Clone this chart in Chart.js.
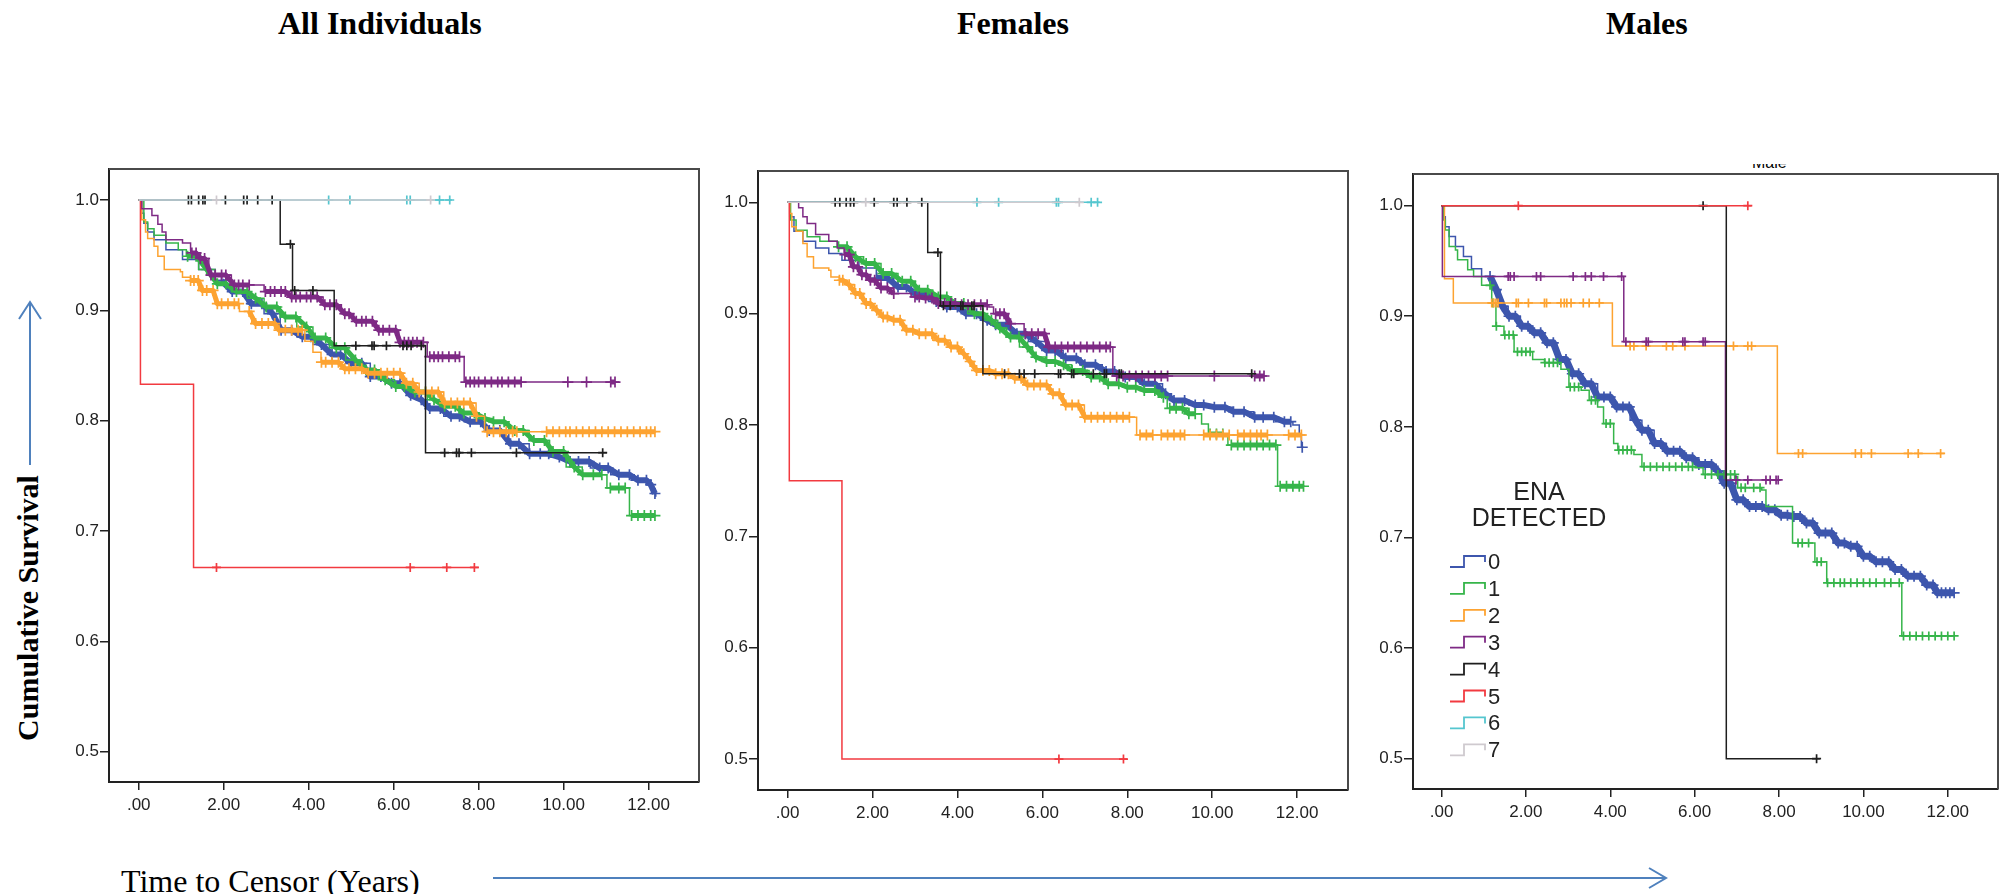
<!DOCTYPE html>
<html>
<head>
<meta charset="utf-8">
<script src="https://cdn.jsdelivr.net/npm/chart.js@4.4.1/dist/chart.umd.min.js"></script>
<style>
  html, body { margin: 0; padding: 0; background: #fff; }
  #page { position: relative; width: 2007px; height: 894px; overflow: hidden; background: #fff; }
  #page canvas { position: absolute; }
  #page svg { position: absolute; left: 0; top: 0; }
</style>
</head>
<body>
<div id="page">
  <svg width="2007" height="894">
    <g font-family="'Liberation Serif', 'Times New Roman', serif" fill="#000">
      <text x="278" y="34" font-size="32" font-weight="bold">All Individuals</text>
      <text x="957" y="34" font-size="32" font-weight="bold">Females</text>
      <text x="1606" y="34" font-size="32" font-weight="bold">Males</text>
      <text transform="translate(38,608) rotate(-90)" text-anchor="middle" font-size="30" font-weight="bold">Cumulative Survival</text>
      <text x="121" y="892" font-size="32">Time to Censor (Years)</text>
    </g>
    <clipPath id="maleClip"><rect x="1740" y="164" width="80" height="4"></rect></clipPath>
    <text x="1752" y="168" font-size="16" font-family="'Liberation Sans', Arial, sans-serif" clip-path="url(#maleClip)">Male</text>
    <g stroke="#4f81bd" stroke-width="2" fill="none">
      <line x1="30" y1="465" x2="30" y2="303"></line>
      <polyline points="19,319 30,302 41,319"></polyline>
      <line x1="493" y1="878" x2="1665" y2="878"></line>
      <polyline points="1649,868 1666,878 1649,888"></polyline>
    </g>
  </svg>
  <canvas id="allChart" width="662" height="683" style="left:49px;top:149px;width:662px;height:683px"></canvas>
  <canvas id="femaleChart" width="662" height="689" style="left:698px;top:151px;width:662px;height:689px"></canvas>
  <canvas id="maleChart" width="657" height="685" style="left:1353px;top:154px;width:657px;height:685px"></canvas>
</div>
<script>
// axis ticks
const X_TICKS = [0, 2, 4, 6, 8, 10, 12];
const X_TICK_LABELS = [".00", "2.00", "4.00", "6.00", "8.00", "10.00", "12.00"];
const Y_TICKS = [0.5, 0.6, 0.7, 0.8, 0.9, 1.0];
const Y_TICK_LABELS = ["0.5", "0.6", "0.7", "0.8", "0.9", "1.0"];
const GROUP_LABELS = ["0", "1", "2", "3", "4", "5", "6", "7"];
const LEGEND_TITLE = ["ENA", "DETECTED"];

// ---- All individuals: step times (aT), survival (aS), censor times (aC)
const aT0 = [0, 0.07, 0.12, 0.21, 0.36, 0.64, 1.03, 1.41, 1.8, 2.18, 2.56, 2.95, 3.33, 3.72, 4.1, 4.49, 4.87, 5.45, 5.83, 6.31, 6.6, 6.79, 7.18, 7.66, 8.14, 8.71, 9.19, 9.67, 10.15, 10.63, 11.11, 11.59, 11.98, 12.07, 12.17];
const aS0 = [1, 0.988, 0.979, 0.971, 0.964, 0.955, 0.946, 0.937, 0.927, 0.917, 0.906, 0.897, 0.882, 0.876, 0.869, 0.86, 0.852, 0.84, 0.834, 0.823, 0.819, 0.811, 0.804, 0.799, 0.791, 0.779, 0.77, 0.767, 0.763, 0.757, 0.751, 0.746, 0.742, 0.734, 0.731];
const aC0 = [1.95, 2.2, 2.45, 2.65, 2.9, 3.15, 3.35, 3.6, 3.85, 4.05, 4.3, 4.55, 4.75, 5.0, 5.25, 5.45, 5.7, 5.95, 6.15, 6.4, 6.65, 6.85, 7.1, 7.35, 7.55, 7.8, 8.05, 8.25, 8.5, 8.75, 8.95, 9.2, 9.45, 9.65, 9.9, 10.15, 10.35, 10.6, 10.85, 11.05, 11.3, 11.55, 11.75, 11.95, 12.05, 12.15];
const aT1 = [0, 0.12, 0.21, 0.36, 0.64, 0.93, 1.12, 1.41, 1.8, 2.18, 2.56, 2.95, 3.33, 3.72, 4.1, 4.49, 4.87, 5.25, 5.64, 6.02, 6.41, 6.79, 7.18, 7.56, 7.94, 8.33, 8.71, 9.19, 9.67, 10.06, 10.44, 11.02, 11.55, 12.17];
const aS1 = [1, 0.98, 0.974, 0.968, 0.961, 0.955, 0.949, 0.937, 0.924, 0.917, 0.911, 0.903, 0.894, 0.885, 0.875, 0.866, 0.855, 0.846, 0.837, 0.831, 0.826, 0.819, 0.813, 0.807, 0.802, 0.799, 0.791, 0.782, 0.772, 0.758, 0.751, 0.739, 0.714, 0.714];
const aC1 = [1.15, 1.35, 1.6, 1.85, 2.05, 2.3, 2.55, 2.75, 3.0, 3.25, 3.45, 3.7, 3.95, 4.15, 4.4, 4.65, 4.85, 5.1, 5.35, 5.55, 5.8, 6.05, 6.25, 6.5, 6.75, 6.95, 7.2, 7.45, 7.65, 7.9, 8.15, 8.35, 8.6, 8.85, 9.05, 9.3, 9.55, 9.75, 10.0, 10.25, 10.45, 10.7, 10.9, null, 11.1, 11.3, 11.45, null, 11.6, 11.75, 11.9, 12.05, 12.15];
const aT2 = [0, 0.07, 0.16, 0.21, 0.36, 0.45, 0.6, 0.98, 1.03, 1.22, 1.41, 1.8, 2.37, 2.66, 3.24, 3.91, 4.1, 4.29, 4.77, 5.35, 6.22, 6.6, 7.18, 7.94, 8.14, 12.17];
const aS2 = [1, 0.982, 0.971, 0.965, 0.958, 0.949, 0.937, 0.935, 0.93, 0.927, 0.918, 0.906, 0.899, 0.888, 0.882, 0.872, 0.862, 0.853, 0.847, 0.843, 0.834, 0.826, 0.816, 0.804, 0.79, 0.79];
const aC2 = [1.22, 1.3, 1.4, 1.5, 1.6, 1.75, 1.85, 1.95, 2.1, 2.25, 2.35, null, 2.6, 2.75, 2.9, 3.05, 3.2, 3.3, 3.45, 3.6, 3.75, 3.85, null, 4.3, 4.4, 4.55, 4.7, 4.85, 4.95, 5.1, 5.25, 5.4, 5.55, 5.7, 5.85, 6.0, 6.15, 6.3, 6.45, 6.6, 6.75, 6.9, 7.05, 7.2, 7.35, 7.5, 7.65, 7.8, 7.95, null, 8.2, 8.35, 8.5, 8.65, 8.8, 8.9, null, 9.6, 9.75, 9.9, 10.05, 10.15, 10.3, 10.45, 10.6, 10.75, 10.9, 11.05, 11.2, 11.35, 11.5, 11.65, 11.8, 11.95, 12.05, 12.15];
const aT3 = [0, 0.07, 0.31, 0.45, 0.55, 0.64, 1.03, 1.22, 1.4, 1.65, 2.18, 2.95, 3.6, 4.34, 4.77, 5.06, 5.59, 6.12, 6.79, 7.66, 11.31];
const aS3 = [1, 0.992, 0.986, 0.978, 0.971, 0.964, 0.961, 0.952, 0.947, 0.932, 0.923, 0.917, 0.912, 0.905, 0.897, 0.89, 0.882, 0.871, 0.858, 0.835, 0.835];
const aC3 = [1.25, 1.35, 1.45, 1.55, 1.7, 1.8, 1.95, 2.05, 2.25, 2.35, 2.45, 2.6, null, 2.98, 3.1, 3.2, 3.35, 3.45, 3.6, 3.7, 3.8, 3.95, 4.05, 4.2, 4.38, 4.5, 4.65, 4.85, 4.95, 5.12, 5.25, 5.35, 5.5, 5.65, 5.75, 5.9, 6.05, 6.15, 6.25, 6.35, 6.45, 6.55, 6.7, null, 6.85, 6.95, 7.05, 7.15, 7.3, 7.45, 7.55, null, 7.7, 7.8, 7.9, 8.0, 8.15, 8.3, 8.45, 8.55, 8.7, 8.85, 9.0, null, 10.1, null, 10.54, null, 11.11, 11.21];
const aT4 = [0, 3.33, 3.62, 4.6, 6.75, 11.02];
const aS4 = [1, 0.96, 0.918, 0.868, 0.771, 0.771];
const aC4 = [1.17, 1.24, 1.41, 1.51, 1.56, 2.04, 2.47, 2.55, 2.8, 3.14, 3.57, 3.67, 4.1, 5.11, 5.49, 5.54, 5.83, 6.22, 6.31, 6.41, 6.65, 7.2, 7.48, 7.54, 7.83, 8.89, 10.92];
const aT5 = [0, 0.04, 1.29, 8.0];
const aS5 = [1, 0.833, 0.667, 0.667];
const aC5 = [1.83, 6.39, 7.25, 7.9];
const aT6 = [0, 7.37];
const aS6 = [1, 1];
const aC6 = [4.47, 4.97, 6.31, 6.39, 7.08, 7.32];
const aT7 = [0, 6.9];
const aS7 = [1, 1];
const aC7 = [1.83, 6.87];

// ---- Females
const fT0 = [0, 0.05, 0.15, 0.36, 0.66, 0.97, 1.28, 1.68, 2.09, 2.5, 2.91, 3.32, 3.73, 4.14, 4.54, 4.85, 5.26, 5.67, 6.08, 6.49, 6.89, 7.41, 7.81, 8.32, 8.83, 9.04, 9.45, 9.96, 10.47, 10.98, 11.49, 11.9, 12.05, 12.1, 12.15];
const fS0 = [1, 0.987, 0.974, 0.965, 0.959, 0.954, 0.948, 0.941, 0.932, 0.924, 0.917, 0.911, 0.906, 0.9, 0.894, 0.89, 0.882, 0.875, 0.867, 0.86, 0.854, 0.848, 0.843, 0.837, 0.828, 0.822, 0.818, 0.816, 0.812, 0.807, 0.803, 0.8, 0.792, 0.78, 0.78];
const fC0 = [2.1, 2.35, 2.6, 2.8, 3.05, 3.3, 3.5, 3.75, 4.0, 4.2, 4.45, 4.7, 4.9, 5.15, 5.4, 5.6, 5.85, 6.1, 6.3, 6.55, 6.8, 7.0, 7.25, 7.5, 7.7, 7.95, 8.2, 8.4, 8.65, 8.9, 9.1, 9.35, 9.6, 9.8, 10.05, 10.3, 10.5, 10.75, 11.0, 11.2, 11.45, 11.7, 11.85, null, 12.12];
const fT1 = [0, 0.07, 0.2, 0.46, 0.76, 1.17, 1.48, 1.79, 2.2, 2.6, 3.01, 3.42, 3.83, 4.24, 4.65, 4.95, 5.16, 5.46, 5.77, 6.08, 6.38, 6.69, 7.1, 7.5, 7.91, 8.32, 8.73, 8.94, 9.45, 9.75, 9.91, 10.37, 11.54, 12.15];
const fS1 = [1, 0.984, 0.975, 0.969, 0.965, 0.96, 0.951, 0.945, 0.936, 0.929, 0.921, 0.915, 0.909, 0.9, 0.894, 0.887, 0.879, 0.87, 0.861, 0.857, 0.854, 0.849, 0.843, 0.837, 0.834, 0.831, 0.825, 0.815, 0.81, 0.801, 0.792, 0.782, 0.745, 0.745];
const fC1 = [1.2, 1.4, 1.6, 1.85, 2.05, 2.25, 2.45, 2.7, 2.9, 3.1, 3.3, 3.55, 3.75, 3.95, 4.15, 4.4, 4.6, 4.8, 5.0, 5.25, 5.45, 5.65, 5.85, 6.1, 6.3, 6.5, 6.7, 6.95, 7.15, 7.35, 7.55, 7.8, 8.0, 8.2, 8.4, 8.65, 8.85, null, 9.0, 9.15, 9.3, 9.45, 9.6, null, 9.95, 10.1, 10.25, null, 10.45, 10.6, 10.75, 10.9, 11.05, 11.2, 11.35, 11.5, null, 11.6, 11.75, 11.9, 12.05, 12.15];
const fT2 = [0, 0.05, 0.1, 0.2, 0.36, 0.46, 0.61, 0.97, 1.02, 1.22, 1.38, 1.58, 1.79, 1.99, 2.2, 2.4, 2.71, 3.01, 3.42, 3.83, 4.03, 4.24, 4.39, 4.85, 5.26, 5.57, 6.18, 6.49, 6.99, 8.22, 12.2];
const fS2 = [1, 0.99, 0.978, 0.974, 0.963, 0.951, 0.941, 0.939, 0.933, 0.93, 0.926, 0.918, 0.909, 0.903, 0.897, 0.894, 0.885, 0.882, 0.876, 0.87, 0.864, 0.857, 0.849, 0.846, 0.842, 0.836, 0.828, 0.818, 0.807, 0.791, 0.791];
const fC2 = [1.22, 1.3, 1.45, 1.6, 1.7, 1.85, 1.95, 2.1, 2.25, 2.35, 2.5, 2.65, 2.8, 2.95, 3.1, 3.25, 3.4, 3.55, 3.7, 3.85, 4.0, 4.15, 4.3, 4.45, 4.6, 4.75, 4.9, 5.05, 5.2, 5.35, 5.5, 5.65, 5.8, 5.95, 6.1, 6.25, 6.4, 6.55, 6.7, 6.85, 7.0, 7.15, 7.3, 7.45, 7.6, 7.75, 7.9, 8.05, null, 8.3, 8.45, 8.6, null, 8.8, 8.95, 9.1, 9.25, 9.35, null, 9.8, 9.95, 10.1, 10.25, 10.4, null, 10.6, 10.75, 10.9, 11.05, 11.15, 11.3, null, 11.8, 11.95, 12.1];
const fT3 = [0, 0.26, 0.36, 0.46, 0.66, 0.97, 1.17, 1.33, 1.48, 1.68, 1.89, 2.2, 2.5, 2.91, 3.22, 3.52, 4.03, 4.74, 4.85, 5.2, 5.57, 6.08, 7.66, 11.29];
const fS3 = [1, 0.995, 0.987, 0.981, 0.971, 0.965, 0.959, 0.953, 0.942, 0.935, 0.93, 0.923, 0.918, 0.915, 0.914, 0.909, 0.908, 0.906, 0.9, 0.891, 0.882, 0.87, 0.844, 0.844];
const fC3 = [1.35, 1.45, 1.55, 1.65, 1.75, 1.85, 1.95, 2.05, 2.2, 2.35, 2.5, null, 3.0, 3.1, 3.25, 3.4, 3.55, 3.7, 3.85, 3.95, 4.1, 4.25, 4.4, 4.55, 4.7, null, 4.9, 5.0, 5.1, 5.25, null, 5.6, 5.75, 5.9, 6.05, 6.15, 6.3, 6.45, 6.6, 6.75, 6.9, 7.05, 7.2, 7.35, 7.5, 7.6, null, 7.75, 7.9, 8.05, 8.2, 8.35, 8.5, 8.65, 8.8, 8.95, null, 10.05, null, 11.0, 11.12, 11.22];
const fT4 = [0, 3.3, 3.6, 4.6, 11.0];
const fS4 = [1, 0.955, 0.907, 0.846, 0.846];
const fC4 = [1.12, 1.23, 1.38, 1.48, 1.56, 2.04, 2.5, 2.58, 2.81, 3.16, 3.54, 3.67, 3.83, 4.08, 4.13, 4.34, 4.39, 5.11, 5.46, 5.57, 5.82, 6.38, 6.43, 6.69, 6.74, 7.2, 7.46, 7.51, 7.81, 7.86, 10.93];
const fT5 = [0, 0.04, 1.28, 8.0];
const fS5 = [1, 0.75, 0.5, 0.5];
const fC5 = [6.39, 7.91];
const fT6 = [0, 7.35];
const fS6 = [1, 1];
const fC6 = [4.46, 4.97, 6.33, 6.38, 7.15, 7.3];
const fT7 = [0, 6.9];
const fS7 = [1, 1];
const fC7 = [1.84, 6.87];

// ---- Males
const mT0 = [0, 0.04, 0.09, 0.18, 0.33, 0.52, 0.71, 0.95, 1.19, 1.39, 1.58, 1.87, 2.16, 2.44, 2.73, 3.02, 3.31, 3.7, 4.08, 4.47, 4.75, 5.04, 5.33, 5.72, 6.1, 6.49, 6.68, 6.97, 7.26, 7.64, 7.93, 8.32, 8.6, 8.89, 9.28, 9.57, 9.86, 10.24, 10.63, 11.01, 11.4, 11.68, 12.17];
const mS0 = [1, 0.99, 0.981, 0.972, 0.963, 0.954, 0.943, 0.936, 0.924, 0.909, 0.9, 0.891, 0.885, 0.876, 0.861, 0.848, 0.839, 0.827, 0.818, 0.806, 0.797, 0.785, 0.778, 0.772, 0.766, 0.76, 0.749, 0.734, 0.728, 0.725, 0.72, 0.719, 0.713, 0.704, 0.695, 0.692, 0.683, 0.678, 0.671, 0.665, 0.657, 0.65, 0.65];
const mC0 = [1.15, 1.3, 1.45, 1.6, 1.75, 1.9, 2.05, 2.2, 2.35, 2.5, 2.65, 2.8, 2.95, 3.1, 3.25, 3.4, 3.55, 3.7, 3.85, 4.0, 4.15, 4.3, 4.45, 4.6, 4.75, 4.9, 5.05, 5.2, 5.35, 5.5, 5.65, 5.8, 5.95, 6.1, 6.25, 6.4, 6.55, 6.7, 6.85, 7.0, 7.15, 7.3, 7.45, 7.6, 7.75, 7.9, 8.05, 8.2, 8.35, 8.5, 8.65, 8.8, 8.95, 9.1, 9.25, 9.4, 9.55, 9.7, 9.85, 10.0, 10.15, 10.3, 10.45, 10.6, 10.75, 10.9, 11.05, 11.2, 11.35, 11.5, 11.65, 11.75, 11.85, 11.95, 12.05, 12.15];
const mT1 = [0, 0.04, 0.09, 0.18, 0.33, 0.38, 0.62, 0.76, 0.95, 1.19, 1.29, 1.48, 1.72, 2.16, 2.44, 2.83, 3.02, 3.31, 3.5, 3.7, 3.84, 4.08, 4.18, 4.56, 4.75, 6.01, 6.2, 6.97, 7.02, 7.59, 7.69, 8.32, 8.85, 9.13, 10.91, 12.17];
const mS1 = [1, 0.987, 0.978, 0.963, 0.96, 0.951, 0.942, 0.936, 0.928, 0.912, 0.891, 0.883, 0.868, 0.861, 0.858, 0.852, 0.836, 0.833, 0.824, 0.818, 0.803, 0.785, 0.779, 0.775, 0.764, 0.763, 0.757, 0.755, 0.745, 0.743, 0.728, 0.695, 0.678, 0.659, 0.611, 0.611];
const mC1 = [1.15, 1.22, 1.3, 1.5, 1.6, 1.7, 1.8, 1.9, 2.0, 2.1, 2.45, 2.55, 2.65, 2.75, 3.05, 3.15, 3.25, 3.55, 3.65, 3.9, 4.0, 4.2, 4.3, 4.4, 4.5, 4.8, 4.95, 5.1, 5.25, 5.4, 5.55, 5.7, 5.85, 5.95, 6.25, 6.4, 6.55, 6.7, 6.85, 6.95, 7.1, 7.2, 7.4, 7.55, 8.45, 8.55, 8.7, 8.9, 9.0, 9.15, 9.3, 9.45, 9.55, 9.7, 9.85, 10.0, 10.15, 10.3, 10.5, 10.65, 10.85, 10.95, 11.1, 11.25, 11.4, 11.55, 11.7, 11.85, 12.0, 12.15];
const mT2 = [0, 0.07, 0.28, 4.05, 7.96, 11.92];
const mS2 = [1, 0.934, 0.912, 0.873, 0.776, 0.776];
const mC2 = [1.19, 1.24, 1.29, 1.34, 1.77, 1.82, 2.06, 2.44, 2.49, 2.83, 2.91, 2.97, 3.07, 3.36, 3.5, 3.74, 4.47, 4.56, 4.85, 5.33, 5.48, 5.77, 6.92, 7.26, 7.35, 8.46, 8.56, 9.81, 9.95, 10.19, 11.06, 11.3, 11.83];
const mT3 = [0, 0.02, 4.32, 6.73, 8.03];
const mS3 = [1, 0.936, 0.877, 0.752, 0.752];
const mC3 = [1.58, 1.63, 1.72, 2.25, 2.35, 3.12, 3.41, 3.55, 3.84, 4.27, 4.37, 4.85, 4.9, 5.72, 5.77, 6.2, 6.25, 6.98, 7.26, 7.69, 7.79, 7.93, 7.98];
const mT4 = [0, 6.75, 8.97];
const mS4 = [1, 0.5, 0.5];
const mC4 = [6.2, 8.89];
const mT5 = [0, 7.35];
const mS5 = [1, 1];
const mC5 = [1.82, 7.26];
const mT6 = [];
const mS6 = [];
const mC6 = [];
const mT7 = [];
const mS7 = [];
const mC7 = [];

const GROUP_COLORS = ["#3d56ad", "#36b54a", "#fda331", "#7e2a85", "#1e1e1e", "#f23a40", "#55c6cf", "#cfcacf"];
const TICK_FONT = { family: "'Liberation Sans', Arial, sans-serif", size: 17 };

const panels = [
  {
    id: "allChart",
    groups: [[aT0, aS0, aC0], [aT1, aS1, aC1], [aT2, aS2, aC2], [aT3, aS3, aC3], [aT4, aS4, aC4], [aT5, aS5, aC5], [aT6, aS6, aC6], [aT7, aS7, aC7]],
    band: [6, 5, 5, 5, 0, 0, 0, 0],
    x: [-0.7, 13.187],
    y: [0.4725, 1.0281],
    legend: false,
  },
  {
    id: "femaleChart",
    groups: [[fT0, fS0, fC0], [fT1, fS1, fC1], [fT2, fS2, fC2], [fT3, fS3, fC3], [fT4, fS4, fC4], [fT5, fS5, fC5], [fT6, fS6, fC6], [fT7, fS7, fC7]],
    band: [6, 5, 5, 5, 0, 0, 0, 0],
    x: [-0.697, 13.198],
    y: [0.4722, 1.0281],
    legend: false,
  },
  {
    id: "maleChart",
    groups: [[mT0, mS0, mC0], [mT1, mS1, mC1], [mT2, mS2, mC2], [mT3, mS3, mC3], [mT4, mS4, mC4], [mT5, mS5, mC5], [mT6, mS6, mC6], [mT7, mS7, mC7]],
    band: [7, 0, 0, 0, 0, 0, 0, 0],
    x: [-0.676, 13.19],
    y: [0.4726, 1.0286],
    legend: true,
  },
];

// survival level of the step curve at time t
const survivalAt = (times, surv, t) => {
  let s = surv[0];
  for (let i = 0; i < times.length; i++) {
    if (times[i] <= t) s = surv[i];
  }
  return s;
};

const groupDatasets = (g, times, surv, cens, band) => {
  const color = GROUP_COLORS[g];
  let lastT = 0;
  const marks = cens.map((t) => {
    if (t === null) return { x: lastT, y: null };
    lastT = t;
    return { x: t, y: survivalAt(times, surv, t) };
  });
  return [
    {
      data: times.map((t, i) => ({ x: t, y: surv[i] })),
      showLine: true,
      stepped: "before",
      borderColor: color,
      borderWidth: 1.5,
      pointRadius: 0,
      order: 100 - 2 * g,
    },
    {
      data: marks,
      showLine: band > 0,
      spanGaps: false,
      tension: 0,
      borderColor: color,
      borderWidth: band,
      borderJoinStyle: "round",
      pointStyle: "cross",
      pointRadius: band ? 5.5 : 4.5,
      pointHoverRadius: 5,
      pointBorderWidth: 1.7,
      pointBorderColor: color,
      pointBackgroundColor: color,
      order: 99 - 2 * g,
    },
  ];
};

const framePlugin = {
  id: "frame",
  beforeDatasetsDraw(chart) {
    const { ctx, chartArea: a } = chart;
    ctx.save();
    ctx.strokeStyle = "#4a4a4a";
    ctx.lineWidth = 2;
    ctx.beginPath();
    ctx.moveTo(a.left, a.top);
    ctx.lineTo(a.right, a.top);
    ctx.lineTo(a.right, a.bottom);
    ctx.stroke();
    ctx.restore();
  },
};

const enaLegend = {
  id: "enaLegend",
  afterDatasetsDraw(chart, args, opts) {
    if (!opts.show) return;
    const { ctx, chartArea: a } = chart;
    ctx.save();
    ctx.fillStyle = "#222";
    ctx.textAlign = "center";
    ctx.textBaseline = "middle";
    ctx.font = "25px 'Liberation Sans', Arial, sans-serif";
    ctx.fillText(LEGEND_TITLE[0], a.left + 126, a.top + 319);
    ctx.fillText(LEGEND_TITLE[1], a.left + 126, a.top + 345);
    ctx.textAlign = "left";
    ctx.font = "22px 'Liberation Sans', Arial, sans-serif";
    GROUP_LABELS.forEach((label, i) => {
      const y = a.top + 388 + i * 26.9;
      const x = a.left + 37;
      ctx.strokeStyle = GROUP_COLORS[i];
      ctx.lineWidth = 1.8;
      ctx.beginPath();
      ctx.moveTo(x, y + 5);
      ctx.lineTo(x + 14, y + 5);
      ctx.lineTo(x + 14, y - 6);
      ctx.lineTo(x + 35, y - 6);
      ctx.lineTo(x + 35, y);
      ctx.stroke();
      ctx.fillStyle = "#222";
      ctx.fillText(label, x + 38, y + 1);
    });
    ctx.restore();
  },
};

panels.forEach((p) => {
  const datasets = [];
  p.groups.forEach(([t, s, c], g) => {
    if (t.length) datasets.push(...groupDatasets(g, t, s, c, p.band[g]));
  });
  const ctx = document.getElementById(p.id).getContext("2d");
  new Chart(ctx, {
    type: "scatter",
    data: { datasets },
    options: {
      responsive: false,
      animation: false,
      events: [],
      layout: { padding: { left: 0, top: 20, right: 12, bottom: 0 } },
      plugins: {
        legend: { display: false },
        tooltip: { enabled: false },
        enaLegend: { show: p.legend },
      },
      scales: {
        x: {
          type: "linear",
          min: p.x[0],
          max: p.x[1],
          afterBuildTicks: (axis) => {
            axis.ticks = X_TICKS.map((v) => ({ value: v }));
          },
          afterFit: (axis) => {
            axis.height = 50;
          },
          ticks: {
            autoSkip: false,
            maxRotation: 0,
            padding: 5,
            color: "#222",
            font: TICK_FONT,
            callback: (v, i) => X_TICK_LABELS[i],
          },
          grid: { drawOnChartArea: false, drawTicks: true, tickLength: 8, color: "#222", lineWidth: 1.5 },
          border: { display: true, color: "#222", width: 2 },
        },
        y: {
          type: "linear",
          min: p.y[0],
          max: p.y[1],
          afterBuildTicks: (axis) => {
            axis.ticks = Y_TICKS.map((v) => ({ value: v }));
          },
          afterFit: (axis) => {
            axis.width = 60;
          },
          ticks: {
            autoSkip: false,
            padding: 1,
            color: "#222",
            font: TICK_FONT,
            callback: (v, i) => Y_TICK_LABELS[i],
          },
          grid: { drawOnChartArea: false, drawTicks: true, tickLength: 9, color: "#222", lineWidth: 1.5 },
          border: { display: true, color: "#222", width: 2 },
        },
      },
    },
    plugins: [framePlugin, enaLegend],
  });
});
</script>
</body>
</html>
